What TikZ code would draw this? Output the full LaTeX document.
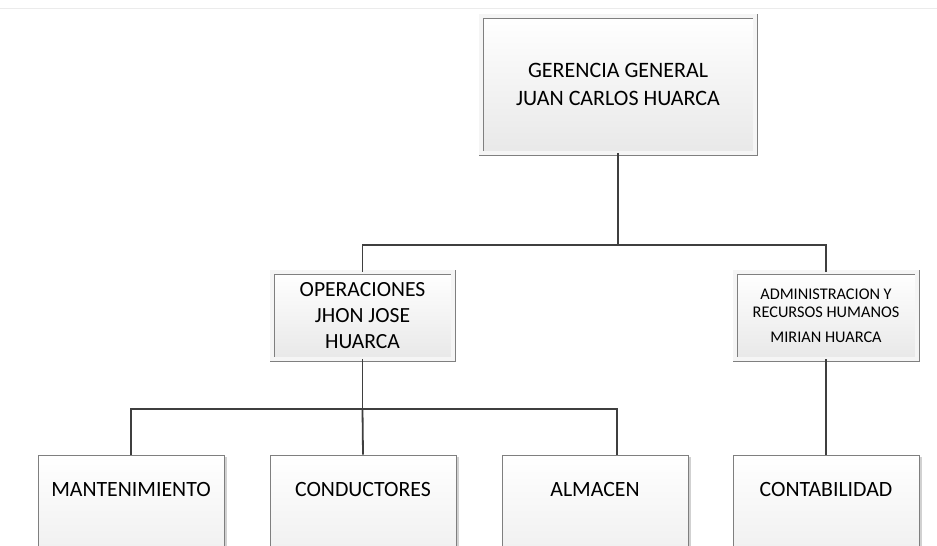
\documentclass[tikz,border=0pt]{standalone}
\usepackage{fontspec}
\setmainfont{Carlito}
\usetikzlibrary{positioning,shadows}
\definecolor{linegray}{HTML}{3F3F3F}
\definecolor{boxgray}{HTML}{7F7F7F}

\begin{document}
\begin{tikzpicture}[
  x=1pt,y=-1pt,
  unit/.style={rectangle,draw=boxgray,line width=0.9pt,
               top color=white,bottom color=black!9,
               align=center,inner sep=0pt,
               drop shadow={shadow xshift=2.5pt,shadow yshift=-2pt,
                            opacity=.3,fill=black!60}},
  head/.style={unit,double=white!96!black,double distance=3.2pt},
  leaf/.style={unit,anchor=base,text width=186pt,
               text height=41pt,text depth=110pt},
  link/.style={draw=linegray,line width=1.8pt},
]
  \useasboundingbox (0,0) rectangle (937,546);
  \clip (0,0) rectangle (937,546);
  \draw[black!8,line width=0.8pt] (0,8) -- (937,8);

  % boxes
  \node[head,minimum width=274pt,minimum height=137pt,
        font=\fontsize{22}{28}\selectfont] (ger) at (618,84.5)
        {GERENCIA GENERAL\\JUAN CARLOS HUARCA};
  \node[head,minimum width=181pt,minimum height=87pt,
        font=\fontsize{21.6}{26}\selectfont] (ops) at (362.5,315.5)
        {OPERACIONES\\JHON JOSE\\HUARCA};
  \node[head,minimum width=182pt,minimum height=87pt,
        font=\fontsize{16.3}{18}\selectfont] (adm) at (826,315.5)
        {ADMINISTRACION Y\\RECURSOS HUMANOS\\[7pt]MIRIAN HUARCA};

  \node[leaf,font=\fontsize{21.8}{24}\selectfont] (mant) at (131,496) {MANTENIMIENTO};
  \node[leaf,font=\fontsize{21.8}{24}\selectfont] (cond) at (363,496) {CONDUCTORES};
  \node[leaf,font=\fontsize{21.8}{24}\selectfont] (alm)  at (595,496) {ALMACEN};
  \node[leaf,font=\fontsize{21.8}{24}\selectfont] (cont) at (826,496) {CONTABILIDAD};

  % connectors
  \coordinate (gerjoin) at (618,245);
  \coordinate (opsjoin) at (362.5,409);
  \draw[link] (ger.south) -- (gerjoin) -| (ops.north);
  \draw[link] (gerjoin) -| (adm.north);
  \draw[link] (ops.south) -- (opsjoin) -| (mant.north);
  \draw[link] (opsjoin) -- (cond.north);
  \draw[link] (opsjoin) -| ([xshift=22pt]alm.north);
  \draw[link] (adm.south) -- (cont.north);
\end{tikzpicture}
\end{document}
